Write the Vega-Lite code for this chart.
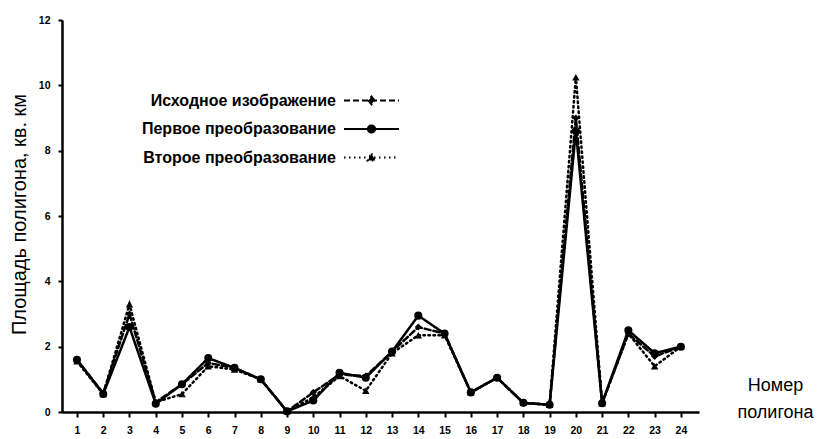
{
  "$schema": "https://vega.github.io/schema/vega-lite/v6.json",
  "width": 637,
  "height": 392,
  "autosize": {"type": "none"},
  "padding": {"left": 62, "top": 20, "right": 125, "bottom": 27},
  "background": "white",
  "config": {
    "view": {"stroke": null},
    "font": "Liberation Sans"
  },
  "data": {
    "values": [
      {"p": 1, "s": "Исходное изображение", "v": 1.6},
      {"p": 2, "s": "Исходное изображение", "v": 0.58},
      {"p": 3, "s": "Исходное изображение", "v": 3.0},
      {"p": 4, "s": "Исходное изображение", "v": 0.3},
      {"p": 5, "s": "Исходное изображение", "v": 0.85},
      {"p": 6, "s": "Исходное изображение", "v": 1.5},
      {"p": 7, "s": "Исходное изображение", "v": 1.35},
      {"p": 8, "s": "Исходное изображение", "v": 1.0},
      {"p": 9, "s": "Исходное изображение", "v": 0.02},
      {"p": 10, "s": "Исходное изображение", "v": 0.6},
      {"p": 11, "s": "Исходное изображение", "v": 1.15},
      {"p": 12, "s": "Исходное изображение", "v": 1.1},
      {"p": 13, "s": "Исходное изображение", "v": 1.85},
      {"p": 14, "s": "Исходное изображение", "v": 2.6},
      {"p": 15, "s": "Исходное изображение", "v": 2.4},
      {"p": 16, "s": "Исходное изображение", "v": 0.6},
      {"p": 17, "s": "Исходное изображение", "v": 1.05},
      {"p": 18, "s": "Исходное изображение", "v": 0.28},
      {"p": 19, "s": "Исходное изображение", "v": 0.22},
      {"p": 20, "s": "Исходное изображение", "v": 9.0},
      {"p": 21, "s": "Исходное изображение", "v": 0.27},
      {"p": 22, "s": "Исходное изображение", "v": 2.4},
      {"p": 23, "s": "Исходное изображение", "v": 1.7},
      {"p": 24, "s": "Исходное изображение", "v": 2.0},
      {"p": 1, "s": "Первое преобразование", "v": 1.6},
      {"p": 2, "s": "Первое преобразование", "v": 0.55},
      {"p": 3, "s": "Первое преобразование", "v": 2.6},
      {"p": 4, "s": "Первое преобразование", "v": 0.25},
      {"p": 5, "s": "Первое преобразование", "v": 0.85},
      {"p": 6, "s": "Первое преобразование", "v": 1.65},
      {"p": 7, "s": "Первое преобразование", "v": 1.35},
      {"p": 8, "s": "Первое преобразование", "v": 1.0},
      {"p": 9, "s": "Первое преобразование", "v": 0.02},
      {"p": 10, "s": "Первое преобразование", "v": 0.35},
      {"p": 11, "s": "Первое преобразование", "v": 1.2},
      {"p": 12, "s": "Первое преобразование", "v": 1.05},
      {"p": 13, "s": "Первое преобразование", "v": 1.85},
      {"p": 14, "s": "Первое преобразование", "v": 2.95},
      {"p": 15, "s": "Первое преобразование", "v": 2.4},
      {"p": 16, "s": "Первое преобразование", "v": 0.6},
      {"p": 17, "s": "Первое преобразование", "v": 1.05},
      {"p": 18, "s": "Первое преобразование", "v": 0.28},
      {"p": 19, "s": "Первое преобразование", "v": 0.22},
      {"p": 20, "s": "Первое преобразование", "v": 8.6},
      {"p": 21, "s": "Первое преобразование", "v": 0.27},
      {"p": 22, "s": "Первое преобразование", "v": 2.5},
      {"p": 23, "s": "Первое преобразование", "v": 1.8},
      {"p": 24, "s": "Первое преобразование", "v": 2.0},
      {"p": 1, "s": "Второе преобразование", "v": 1.55},
      {"p": 2, "s": "Второе преобразование", "v": 0.55},
      {"p": 3, "s": "Второе преобразование", "v": 3.3},
      {"p": 4, "s": "Второе преобразование", "v": 0.3},
      {"p": 5, "s": "Второе преобразование", "v": 0.55},
      {"p": 6, "s": "Второе преобразование", "v": 1.4},
      {"p": 7, "s": "Второе преобразование", "v": 1.3},
      {"p": 8, "s": "Второе преобразование", "v": 1.0},
      {"p": 9, "s": "Второе преобразование", "v": 0.02},
      {"p": 10, "s": "Второе преобразование", "v": 0.45},
      {"p": 11, "s": "Второе преобразование", "v": 1.1},
      {"p": 12, "s": "Второе преобразование", "v": 0.65},
      {"p": 13, "s": "Второе преобразование", "v": 1.8},
      {"p": 14, "s": "Второе преобразование", "v": 2.35},
      {"p": 15, "s": "Второе преобразование", "v": 2.35},
      {"p": 16, "s": "Второе преобразование", "v": 0.6},
      {"p": 17, "s": "Второе преобразование", "v": 1.05},
      {"p": 18, "s": "Второе преобразование", "v": 0.28},
      {"p": 19, "s": "Второе преобразование", "v": 0.22},
      {"p": 20, "s": "Второе преобразование", "v": 10.25},
      {"p": 21, "s": "Второе преобразование", "v": 0.27},
      {"p": 22, "s": "Второе преобразование", "v": 2.4},
      {"p": 23, "s": "Второе преобразование", "v": 1.4},
      {"p": 24, "s": "Второе преобразование", "v": 2.0}
    ]
  },
  "encoding": {
    "x": {
      "field": "p",
      "type": "quantitative",
      "scale": {"domain": [0.43, 24.69], "nice": false, "zero": false},
      "axis": {
        "values": [1,2,3,4,5,6,7,8,9,10,11,12,13,14,15,16,17,18,19,20,21,22,23,24],
        "grid": false,
        "domainColor": "black",
        "domainWidth": 2.5,
        "tickColor": "black",
        "tickWidth": 2,
        "tickSize": 5,
        "labelPadding": 8,
        "labelFontSize": 10.5,
        "labelFontWeight": "bold",
        "labelColor": "black",
        "labelFlush": false,
        "title": ["Номер", "полигона"],
        "titleFontSize": 18,
        "titleFontWeight": "normal",
        "titleColor": "black",
        "titleX": 713,
        "titleY": -22,
        "titleAlign": "center",
        "titleBaseline": "alphabetic",
        "titleLineHeight": 27
      }
    },
    "y": {
      "field": "v",
      "type": "quantitative",
      "scale": {"domain": [0, 12], "nice": false},
      "axis": {
        "values": [0, 2, 4, 6, 8, 10, 12],
        "grid": false,
        "domainColor": "black",
        "domainWidth": 2.5,
        "tickColor": "black",
        "tickWidth": 2,
        "tickSize": 4,
        "labelPadding": 8,
        "labelFontSize": 10.5,
        "labelFontWeight": "bold",
        "labelColor": "black",
        "labelFlush": false,
        "title": "Площадь полигона, кв. км",
        "titleFontSize": 20,
        "titleFontWeight": "normal",
        "titleColor": "black",
        "titleAngle": 270,
        "titleX": -37,
        "titleY": 194,
        "titleAlign": "center",
        "titleBaseline": "alphabetic"
      }
    }
  },
  "layer": [
    {
      "mark": {"type": "line", "color": "black", "strokeWidth": 2.5, "strokeCap": "round"},
      "encoding": {
        "strokeDash": {
          "field": "s",
          "type": "nominal",
          "scale": {
            "domain": ["Исходное изображение", "Первое преобразование", "Второе преобразование"],
            "range": [[6, 3], [1, 0], [1.5, 3.5]]
          },
          "legend": {
            "title": null,
            "orient": "none",
            "legendX": 298,
            "legendY": 69,
            "padding": 0,
            "symbolSize": 400,
            "symbolStrokeWidth": 2.2,
            "symbolStrokeColor": "black",
            "labelAlign": "right",
            "labelOffset": -47,
            "labelFontSize": 16,
            "labelFontWeight": "bold",
            "labelColor": "black",
            "labelLimit": 400,
            "rowPadding": 8.5,
            "encode": {
              "symbols": {
                "update": {
                  "shape": {"signal": "datum.value === 'Исходное изображение' ? 'M-2.75,0H2.75M0,-0.38L0.3,0L0,0.38L-0.3,0Z' : datum.value === 'Первое преобразование' ? 'M-2.75,0H2.75M-0.35,0A0.35,0.35,0,1,1,0.35,0A0.35,0.35,0,1,1,-0.35,0Z' : 'M-2.75,0H2.75M0,-0.4L0.38,0.3L-0.38,0.3Z'"},
                  "fill": {"value": "black"},
                  "stroke": {"value": "black"}
                }
              }
            }
          }
        }
      }
    },
    {
      "transform": [{"filter": "datum.s === 'Исходное изображение'"}],
      "mark": {"type": "point", "filled": true, "color": "black", "opacity": 1, "shape": "diamond", "size": 50}
    },
    {
      "transform": [{"filter": "datum.s === 'Первое преобразование'"}],
      "mark": {"type": "point", "filled": true, "color": "black", "opacity": 1, "shape": "circle", "size": 65}
    },
    {
      "transform": [{"filter": "datum.s === 'Второе преобразование'"}],
      "mark": {"type": "point", "filled": true, "color": "black", "opacity": 1, "shape": "triangle-up", "size": 55}
    }
  ]
}
